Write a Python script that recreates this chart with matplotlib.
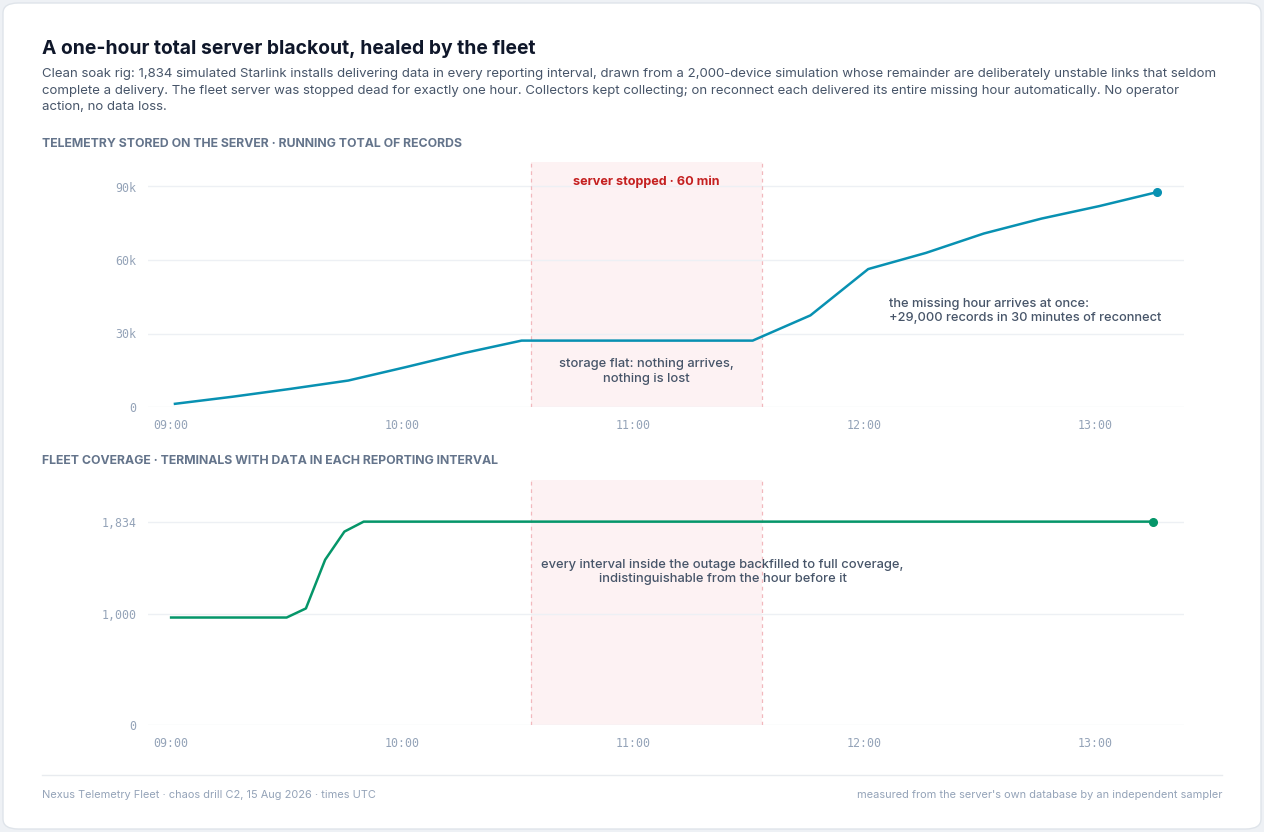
import matplotlib
matplotlib.use("Agg")
import matplotlib.pyplot as plt
import matplotlib.dates as mdates
from matplotlib.patches import FancyBboxPatch
from matplotlib.ticker import FixedLocator, FuncFormatter
import pandas as pd

# ---------------- data ----------------
DAY = "2026-08-15 "
stored_times = ["09:01", "09:16", "09:31", "09:46", "10:01", "10:16", "10:31",
                "10:46", "11:01", "11:16", "11:31", "11:46", "12:01", "12:16",
                "12:31", "12:46", "13:01", "13:16"]
stored_records = [1300, 4200, 7400, 10800, 16300, 22000, 27100,
                  27100, 27100, 27100, 27100, 37400, 56300, 62900,
                  70800, 76900, 82000, 87700]

coverage_times = ["09:00", "09:30", "09:35", "09:40", "09:45", "09:50", "13:15"]
coverage_terminals = [968, 968, 1050, 1490, 1744, 1834, 1834]

outage_start, outage_end = "10:33:30", "11:33:30"
x_ticks = ["09:00", "10:00", "11:00", "12:00", "13:00"]
x_range = ["08:54", "13:23"]
top_yticks = [0, 30000, 60000, 90000]
bot_yticks = [0, 1000, 1834]

def T(s):
    return pd.to_datetime(DAY + s)

st = [T(s) for s in stored_times]
ct = [T(s) for s in coverage_times]
o0, o1 = T(outage_start), T(outage_end)

# ---------------- style ----------------
W, H = 1264, 832
fig = plt.figure(figsize=(W / 100, H / 100), dpi=100)
fig.patch.set_facecolor("#eef1f5")
card = FancyBboxPatch((3 / W, 3 / H), (W - 6) / W, (H - 6) / H,
                      boxstyle="round,pad=0,rounding_size=0.012",
                      transform=fig.transFigure, facecolor="white",
                      edgecolor="#dfe4ea", linewidth=1.0, zorder=-10)
fig.patches.append(card)

SANS = ["Inter", "DejaVu Sans"]
MONO = ["DejaVu Sans Mono"]
INK = "#0f172a"
SUB = "#475569"
MUTED = "#64748b"
TICK = "#94a3b8"
GRID = "#edf0f4"
BLUE = "#0891b2"
GREEN = "#059669"
RED = "#c42020"
SHADE = "#fdf2f3"
DASH = "#f2b8bd"

def fx(x):
    return x / W

def fy(y):
    return 1 - y / H

fig.text(fx(42), fy(49), "A one-hour total server blackout, healed by the fleet",
         family=SANS, fontsize=13.9, fontweight="bold", color=INK, va="center")
sub = ("Clean soak rig: 1,834 simulated Starlink installs delivering data in every reporting interval, drawn from a 2,000-device simulation whose remainder are deliberately unstable links that seldom\n"
       "complete a delivery. The fleet server was stopped dead for exactly one hour. Collectors kept collecting; on reconnect each delivered its entire missing hour automatically. No operator\n"
       "action, no data loss.")
fig.text(fx(42), fy(68.5), sub, family=SANS, fontsize=9.5, color=SUB, va="top",
         linespacing=1.47)

fig.text(fx(42), fy(144), "TELEMETRY STORED ON THE SERVER · RUNNING TOTAL OF RECORDS",
         family=SANS, fontsize=8.85, fontweight="bold", color=MUTED, va="center")
fig.text(fx(42), fy(461), "FLEET COVERAGE · TERMINALS WITH DATA IN EACH REPORTING INTERVAL",
         family=SANS, fontsize=8.85, fontweight="bold", color=MUTED, va="center")

ax1 = fig.add_axes([fx(148), fy(407), (1184 - 148) / W, (407 - 162) / H])
ax2 = fig.add_axes([fx(148), fy(724.7), (1184 - 148) / W, (724.7 - 480) / H])

def style(ax, yticks, fmt, ymax):
    ax.set_facecolor("none")
    for s in ax.spines.values():
        s.set_visible(False)
    ax.set_xlim(T(x_range[0]), T(x_range[1]))
    ax.set_ylim(0, ymax)
    ax.yaxis.set_major_locator(FixedLocator(yticks))
    ax.yaxis.set_major_formatter(FuncFormatter(fmt))
    ax.xaxis.set_major_locator(FixedLocator([mdates.date2num(T(s)) for s in x_ticks]))
    ax.xaxis.set_major_formatter(mdates.DateFormatter("%H:%M"))
    ax.tick_params(axis="both", length=0, colors=TICK, labelsize=8.4)
    ax.tick_params(axis="y", pad=8.5)
    ax.tick_params(axis="x", pad=8.5)
    for lab in ax.get_xticklabels() + ax.get_yticklabels():
        lab.set_family(MONO)
    ax.grid(axis="y", color=GRID, linewidth=1.0)
    ax.grid(axis="x", visible=False)
    ax.set_axisbelow(True)
    ax.axvspan(o0, o1, color=SHADE, zorder=0.5, lw=0)
    for t in (o0, o1):
        ax.axvline(t, color=DASH, lw=0.9, ls=(0, (3, 3)), zorder=0.6)

style(ax1, top_yticks, lambda v, p: "0" if v == 0 else f"{int(v / 1000)}k", 100000)
style(ax2, bot_yticks, lambda v, p: f"{int(v):,}", 2210)

ax1.plot(st, stored_records, color=BLUE, lw=1.8, solid_joinstyle="round", zorder=3)
ax1.plot(st[-1], stored_records[-1], "o", color=BLUE, ms=5.5, zorder=4)
ax2.plot(ct, coverage_terminals, color=GREEN, lw=1.8, solid_joinstyle="round", zorder=3)
ax2.plot(ct[-1], coverage_terminals[-1], "o", color=GREEN, ms=5.5, zorder=4)

mid = o0 + (o1 - o0) / 2
ax1.text(mid, 0.92, "server stopped · 60 min", transform=ax1.get_xaxis_transform(),
         ha="center", va="center", family=SANS, fontsize=9.1, fontweight="bold", color=RED)
ax1.text(mid, 0.145, "storage flat: nothing arrives,\nnothing is lost",
         transform=ax1.get_xaxis_transform(), ha="center", va="center",
         family=SANS, fontsize=9.3, fontweight="medium", color=SUB, linespacing=1.3)
ax1.text(0.715, 0.392, "the missing hour arrives at once:\n+29,000 records in 30 minutes of reconnect",
         transform=ax1.transAxes, ha="left", va="center", family=SANS, fontsize=9.25,
         fontweight="medium", color=SUB, linespacing=1.3)
ax2.text(0.5546, 0.624, "every interval inside the outage backfilled to full coverage,\nindistinguishable from the hour before it",
         transform=ax2.transAxes, ha="center", va="center", family=SANS, fontsize=9.3,
         fontweight="medium", color=SUB, linespacing=1.3)

fig.add_artist(plt.Line2D([fx(42), fx(1222)], [fy(775), fy(775)], transform=fig.transFigure,
                          color="#e8ebef", lw=1.0))
fig.text(fx(42), fy(795), "Nexus Telemetry Fleet · chaos drill C2, 15 Aug 2026 · times UTC",
         family=SANS, fontsize=7.9, color=TICK, va="center")
fig.text(fx(1222), fy(795), "measured from the server's own database by an independent sampler",
         family=SANS, fontsize=7.9, color=TICK, va="center", ha="right")

fig.savefig("out.png", dpi=100, facecolor=fig.get_facecolor())
